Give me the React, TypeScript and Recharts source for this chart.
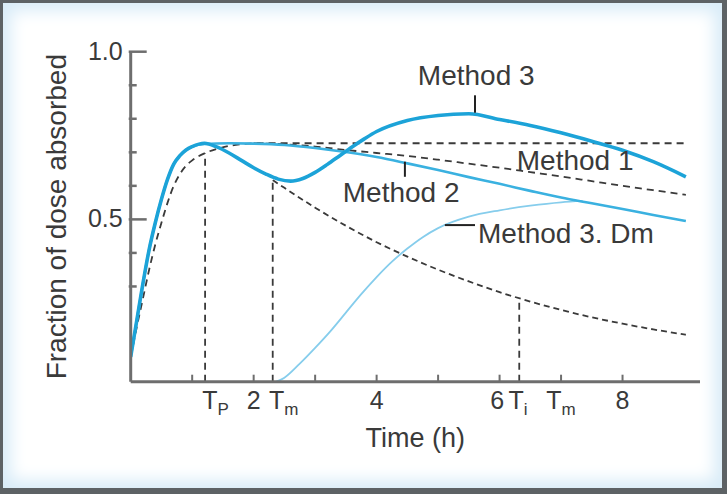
import React from 'react';
import { LineChart, Line, XAxis, YAxis, ReferenceLine, ReferenceDot } from 'recharts';

// ---- data (time in h, fraction of dose absorbed) ----
const absT = [0, 0.1, 0.2, 0.3, 0.4, 0.5, 0.6, 0.7, 0.8, 0.9, 1.0, 1.2, 1.4, 1.6, 1.8, 2.0, 9.03];
const absV = [0.09, 0.18, 0.265, 0.35, 0.425, 0.49, 0.55, 0.6, 0.635, 0.66, 0.676, 0.697, 0.71, 0.719, 0.724, 0.727, 0.727];

const decayT = [2.31, 2.5, 3.0, 3.5, 4.0, 4.5, 5.0, 5.5, 6.0, 6.5, 7.0, 7.5, 8.0, 8.5, 9.03];
const decayV = [0.617, 0.594, 0.535, 0.481, 0.432, 0.389, 0.35, 0.315, 0.283, 0.255, 0.23, 0.208, 0.189, 0.172, 0.156];

const m1T = [2.0, 2.5, 3.0, 3.5, 4.0, 4.5, 5.0, 5.5, 6.0, 6.5, 7.0, 7.5, 8.0, 8.5, 9.03];
const m1V = [0.727, 0.724, 0.717, 0.707, 0.698, 0.689, 0.678, 0.666, 0.654, 0.641, 0.628, 0.614, 0.6, 0.587, 0.573];

const m2T = [0, 0.1, 0.2, 0.3, 0.4, 0.5, 0.6, 0.7, 0.8, 0.9, 1.0, 1.2, 1.6, 2.0, 2.5, 3.0, 3.5, 4.0, 4.5, 5.0, 5.5, 6.0, 6.5, 7.0, 7.5, 8.0, 8.5, 9.03];
const m2V = [0.09, 0.2, 0.31, 0.41, 0.49, 0.56, 0.62, 0.665, 0.69, 0.707, 0.717, 0.725, 0.727, 0.726, 0.722, 0.713, 0.701, 0.686, 0.667, 0.647, 0.626, 0.606, 0.585, 0.565, 0.548, 0.531, 0.513, 0.495];

const m3T = [0, 0.1, 0.2, 0.3, 0.4, 0.5, 0.6, 0.7, 0.8, 0.9, 1.0, 1.2, 1.4, 1.6, 1.8, 2.0, 2.2, 2.4, 2.6, 2.8, 3.0, 3.2, 3.4, 3.6, 3.8, 4.0, 4.5, 5.0, 5.5, 6.0, 6.5, 7.0, 7.5, 8.0, 8.5, 9.03];
const m3V = [0.09, 0.2, 0.31, 0.41, 0.49, 0.56, 0.62, 0.665, 0.69, 0.707, 0.717, 0.727, 0.716, 0.698, 0.676, 0.654, 0.635, 0.62, 0.614, 0.622, 0.64, 0.664, 0.69, 0.716, 0.74, 0.762, 0.795, 0.81, 0.815, 0.798, 0.78, 0.758, 0.733, 0.706, 0.672, 0.627];

const dmT = [2.37, 2.5, 2.75, 3.0, 3.25, 3.5, 3.75, 4.0, 4.25, 4.5, 4.75, 5.0, 5.5, 6.0, 6.5, 7.0, 7.35];
const dmV = [0.016, 0.028, 0.07, 0.117, 0.167, 0.222, 0.277, 0.328, 0.374, 0.413, 0.447, 0.474, 0.508, 0.527, 0.541, 0.551, 0.555];

// vertical dashed markers: Tp, Tm, Ti
const markT = [1.21, 2.31, 6.32];
const markTop = [0.697, 0.617, 0.266];

// annotations
const annText = ['Method 3', 'Method 1', 'Method 2', 'Method 3. Dm'];
const annT = [5.62, 6.28, 3.45, 5.65];
const annV = [0.9007, 0.647, 0.553, 0.43];
const annAnchor = ['middle', 'start', 'start', 'start'];

// leader lines [t1, v1, t2, v2]
const leaders = [
  [5.6, 0.818, 5.6, 0.87],
  [4.46, 0.627, 4.46, 0.672],
  [5.11, 0.483, 5.6, 0.483],
];

// axes
const yTicks = [0.3, 0.4, 0.5, 0.6, 0.7, 0.8, 0.9, 1.0];
const yLabelTicks = [0.5, 1.0];
const xTickMarks = [1, 2, 3, 4, 5, 6, 7, 8];
const xLabelPos = [1.38, 2, 2.49, 4, 5.96, 6.3, 7, 8];
const xLabelMain = ['T', '2', 'T', '4', '6', 'T', 'T', '8'];
const xLabelSub = ['P', '', 'm', '', '', 'i', 'm', ''];
const xAllTicks = Array.from(new Set([...xTickMarks, ...xLabelPos])).sort((a, b) => a - b);

const zip = (t: number[], v: number[]) => t.map((x, i) => ({ t: x, v: v[i] }));
const absData = zip(absT, absV);
const decayData = zip(decayT, decayV);
const m1Data = zip(m1T, m1V);
const m2Data = zip(m2T, m2V);
const m3Data = zip(m3T, m3V);
const dmData = zip(dmT, dmV);

const FONT = '"Liberation Sans", Arial, Helvetica, sans-serif';
const TEXT = '#3a3a3a';
const AXIS = '#6e6e6e';
const DASH = '#3a3a3a';

const YTick = (props: any) => {
  const { x, y, payload } = props;
  const v = payload.value;
  const major = yLabelTicks.some((m) => Math.abs(m - v) < 1e-6);
  return (
    <g>
      <line x1={x - 2} y1={y} x2={x + (major ? 16 : 6)} y2={y} stroke={AXIS} strokeWidth={2.5} />
      {major && (
        <text x={x - 8} y={y + 8} textAnchor="end" fontSize={25} fill={TEXT} fontFamily={FONT}>
          {v.toFixed(1)}
        </text>
      )}
    </g>
  );
};

const XTick = (props: any) => {
  const { x, y, payload } = props;
  const v = payload.value;
  const mark = xTickMarks.some((m) => Math.abs(m - v) < 1e-6);
  const li = xLabelPos.findIndex((m) => Math.abs(m - v) < 1e-6);
  return (
    <g>
      {mark && <line x1={x} y1={y} x2={x} y2={y - 7} stroke={AXIS} strokeWidth={2} />}
      {li >= 0 && (
        <text x={x} y={y + 27} textAnchor="middle" fontSize={25} fill={TEXT} fontFamily={FONT}>
          {xLabelMain[li]}
          {xLabelSub[li] && (
            <tspan dy={6} fontSize={17}>
              {xLabelSub[li]}
            </tspan>
          )}
        </text>
      )}
    </g>
  );
};

const annShape = (i: number) => (p: any) => (
  <text x={p.cx} y={p.cy} textAnchor={annAnchor[i] as any} fontSize={28} fill={TEXT} fontFamily={FONT}>
    {annText[i]}
  </text>
);

export default function App() {
  return (
    <div style={{ position: 'absolute', left: 0, top: 0, width: 727, height: 494 }}>
      <div
        style={{
          position: 'absolute',
          left: 0,
          top: 0,
          width: 727,
          height: 494,
          boxSizing: 'border-box',
          borderStyle: 'solid',
          borderColor: '#5d6265',
          borderWidth: '3px 5px 6px 3px',
          background: '#ffffff',
          boxShadow: 'inset 0 0 16px 8px #d9ecf8',
        }}
      />
      <div style={{ position: 'absolute', left: 0, top: 0 }}>
        <LineChart width={727} height={494} margin={{ top: 51.7, right: 27, bottom: 32.3, left: 30.7 }}>
          <XAxis
            type="number"
            dataKey="t"
            domain={[0, 9.26]}
            ticks={xAllTicks}
            interval={0}
            tickLine={false}
            tickSize={0}
            tickMargin={0}
            tick={XTick}
            height={80}
            axisLine={{ stroke: AXIS, strokeWidth: 3 }}
            allowDataOverflow
            label={(p: any) => {
              const vb = p.viewBox;
              return (
                <text x={vb.x + vb.width / 2} y={vb.y + 65} textAnchor="middle" fontSize={27} fill={TEXT} fontFamily={FONT}>
                  Time (h)
                </text>
              );
            }}
          />
          <YAxis
            type="number"
            domain={[0.016, 1]}
            ticks={yTicks}
            interval={0}
            tickLine={false}
            tickSize={0}
            tickMargin={0}
            tick={YTick}
            width={100}
            axisLine={{ stroke: AXIS, strokeWidth: 3 }}
            allowDataOverflow
            label={(p: any) => {
              const vb = p.viewBox;
              const cx = vb.x + 35.5;
              const cy = vb.y + vb.height / 2;
              return (
                <text
                  x={cx}
                  y={cy}
                  transform={`rotate(-90, ${cx}, ${cy})`}
                  textAnchor="middle"
                  fontSize={28}
                  fill={TEXT}
                  fontFamily={FONT}
                >
                  Fraction of dose absorbed
                </text>
              );
            }}
          />

          {markT.map((t, i) => (
            <ReferenceLine
              key={`mk${i}`}
              segment={[
                { x: t, y: 0.016 },
                { x: t, y: markTop[i] },
              ]}
              stroke={DASH}
              strokeWidth={1.8}
              strokeDasharray="7 5"
            />
          ))}

          <Line data={absData} dataKey="v" type="monotone" stroke={DASH} strokeWidth={1.8} strokeDasharray="7 5" dot={false} activeDot={false} isAnimationActive={false} />
          <Line data={decayData} dataKey="v" type="monotone" stroke={DASH} strokeWidth={1.8} strokeDasharray="6 4" dot={false} activeDot={false} isAnimationActive={false} />
          <Line data={m1Data} dataKey="v" type="monotone" stroke={DASH} strokeWidth={1.8} strokeDasharray="7 5" dot={false} activeDot={false} isAnimationActive={false} />
          <Line data={dmData} dataKey="v" type="monotone" stroke="#86cdec" strokeWidth={1.8} dot={false} activeDot={false} isAnimationActive={false} />
          <Line data={m2Data} dataKey="v" type="monotone" stroke="#3ab1e0" strokeWidth={2.6} dot={false} activeDot={false} isAnimationActive={false} />
          <Line data={m3Data} dataKey="v" type="monotone" stroke="#1ca3d8" strokeWidth={3.6} dot={false} activeDot={false} isAnimationActive={false} />

          {leaders.map((l, i) => (
            <ReferenceLine
              key={`ld${i}`}
              segment={[
                { x: l[0], y: l[1] },
                { x: l[2], y: l[3] },
              ]}
              stroke="#222"
              strokeWidth={2}
            />
          ))}

          {annText.map((_, i) => (
            <ReferenceDot key={`an${i}`} x={annT[i]} y={annV[i]} r={0} shape={annShape(i)} />
          ))}
        </LineChart>
      </div>
    </div>
  );
}
